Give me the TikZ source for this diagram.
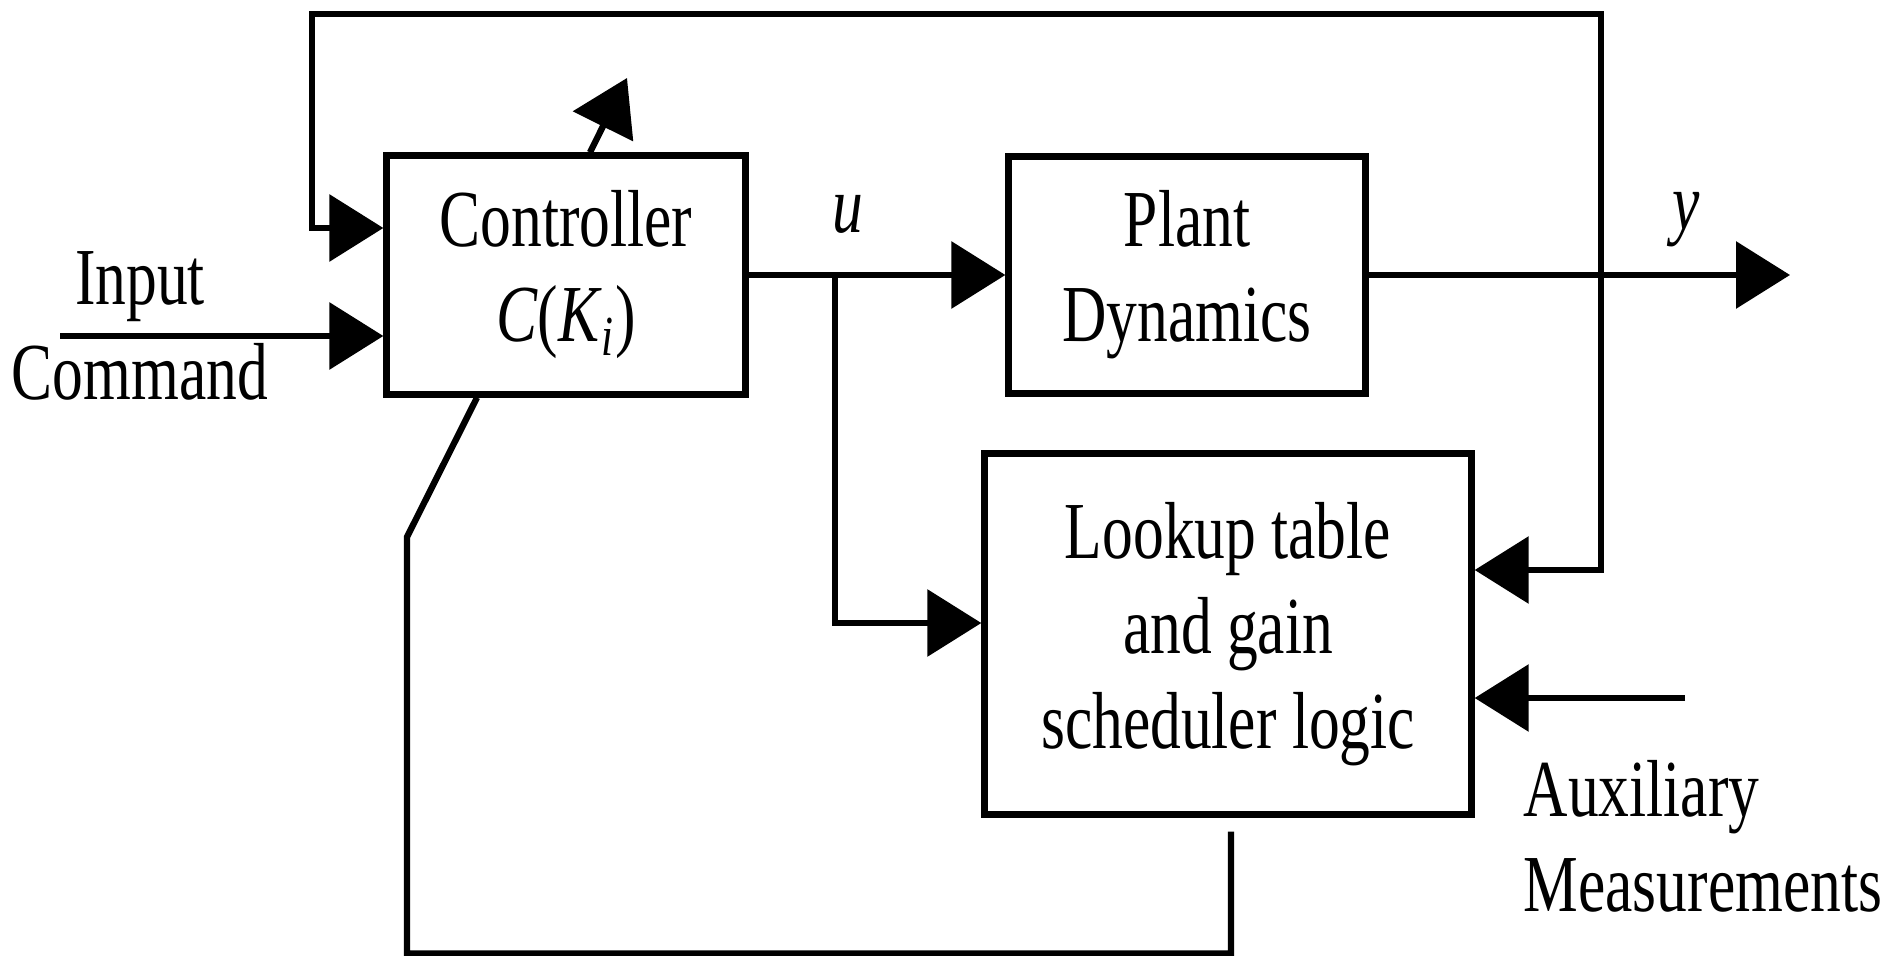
\documentclass[tikz,border=0pt]{standalone}
\usepackage{fontspec}
\setmainfont{Liberation Serif}
\usepackage{graphicx}
\usepackage{tikz}
\usetikzlibrary{arrows.meta, calc}

\newcommand{\narrow}[1]{\scalebox{0.76}[1]{#1}}

\begin{document}
\begin{tikzpicture}[
	x = 0.01cm, y = -0.01cm,
	>={Triangle[length=5.4mm, width=6.6mm]},
	block/.style={draw, line width=2pt, inner sep=0pt, align=center, font=\fontsize{23}{27}\selectfont},
	signal/.style={line width=1.8pt, line join=miter},
	lbl/.style={inner sep=0pt, font=\fontsize{23}{27}\selectfont},
	]
	\useasboundingbox (0,0) rectangle (1883,955);

	\node (ctrl) [block, minimum width=3.58cm, minimum height=2.38cm] at (566,275)
		{\narrow{Controller}\\\narrow{\textit{C}(\textit{K}\textsubscript{\textit{i}})}};
	\node (plant) [block, minimum width=3.56cm, minimum height=2.37cm] at (1187,275)
		{\narrow{Plant}\\\narrow{Dynamics}};
	\node (sched) [block, minimum width=4.86cm, minimum height=3.60cm] at (1228,634)
		{\narrow{Lookup table}\\\narrow{and gain}\\\narrow{scheduler logic}};

	\node (cmdtxt) [lbl, align=center] at (140,326) {\narrow{Input}\\\narrow{Command}};
	\node (auxtxt) [lbl, align=left, anchor=west] at (1523,836) {\narrow{Auxiliary}\\\narrow{Measurements}};
	\node (ulbl) [lbl, anchor=base] at (848,233) {\narrow{\textit{u}}};
	\node (ylbl) [lbl, anchor=base] at (1686,230) {\narrow{\textit{y}}};

	\coordinate (cmd) at (60,336);
	\coordinate (gain) at (627,78);
	\coordinate (utap) at (835,275);
	\coordinate (yout) at (1790,275);
	\coordinate (aux) at (1685,698);
	\coordinate (topl) at (312,14);
	\coordinate (topr) at (1601,14);
	\coordinate (kink) at (407,537);

	\draw[signal,->] (cmd) -- (cmd -| ctrl.west);
	\draw[signal,->] ($(ctrl.north)+(24,0)$) -- (gain);
	\draw[signal,->] (ctrl.east) -- (plant.west);
	\draw[signal,->] (utap) |- ($(sched.west)+(0,-11)$);
	\draw[signal,->] (plant.east) -- (yout);
	\draw[signal,<->] ($(ctrl.west)+(0,-47)$) -| (topl) -- (topr) |- ($(sched.east)+(0,-64)$);
	\draw[signal,->] (aux) -- (aux -| sched.east);
	\draw[signal] ($(sched.south)+(3,14)$) -- ++(0,122) -| (kink) -- ($(ctrl.south)+(-89,0)$);
\end{tikzpicture}
\end{document}
